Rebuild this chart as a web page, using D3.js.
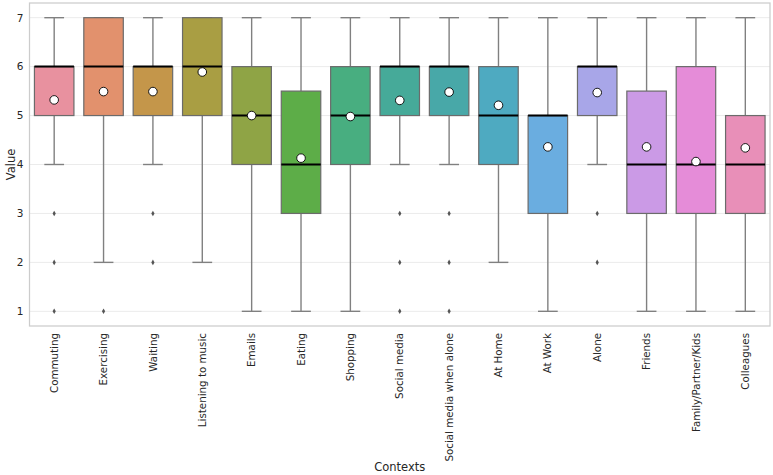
<!DOCTYPE html>
<html>
<head>
<meta charset="utf-8">
<script src="https://cdn.jsdelivr.net/npm/d3@7"></script>
<style>
  body { margin: 0; background: #fff; }
  text { font-family: "DejaVu Sans", sans-serif; fill: #262626; }
</style>
</head>
<body>
<div class="chart"></div>
<script>
/// Box stats per context
var contexts = ["Commuting", "Exercising", "Waiting", "Listening to music", "Emails", "Eating",
    "Shopping", "Social media", "Social media when alone", "At Home", "At Work", "Alone",
    "Friends", "Family/Partner/Kids", "Colleagues"];
var q1Values     = [5, 5, 5, 5, 4, 3,   4, 5, 5, 4, 3, 5, 3,   3, 3];
var medianValues = [6, 6, 6, 6, 5, 4,   5, 6, 6, 5, 5, 6, 4,   4, 4];
var q3Values     = [6, 7, 6, 7, 6, 5.5, 6, 6, 6, 6, 5, 6, 5.5, 6, 5];
var lowWhiskers  = [4, 2, 4, 2, 1, 1,   1, 4, 4, 2, 1, 4, 1,   1, 1];
var highWhiskers = [7, 7, 7, 7, 7, 7,   7, 7, 7, 7, 7, 7, 7,   7, 7];
var meanValues   = [5.32, 5.49, 5.49, 5.89, 5.0, 4.13, 4.98, 5.31, 5.48, 5.21, 4.36, 5.47, 4.36, 4.06, 4.34];
var outlierValues = [[3, 2, 1], [1], [3, 2], [], [], [], [], [3, 2, 1], [3, 2, 1], [], [], [3, 2], [], [], []];
var yTicks = [1, 2, 3, 4, 5, 6, 7];

var boxColors = ["#e8919f", "#e2916d", "#c4964a", "#a99e43", "#8fa445", "#5dad48",
    "#48ae80", "#46aa99", "#48a8a8", "#4eaac1", "#6aade0", "#a8a6e8",
    "#cb9ae6", "#e58cd8", "#e88fb8"];

var svgWidth = 773;
var svgHeight = 475;
var margin = { top: 3, right: 3, bottom: 149, left: 29.5 };
var width = svgWidth - margin.left - margin.right;
var height = svgHeight - margin.top - margin.bottom;

var svg = d3.select(".chart")
    .append("svg")
    .attr("width", svgWidth)
    .attr("height", svgHeight);

var chartGroup = svg.append("g")
    .attr("transform", `translate(${margin.left}, ${margin.top})`);

var xScale = d3.scaleBand()
    .domain(contexts)
    .range([0, width])
    .paddingInner(0)
    .paddingOuter(0);

var yScale = d3.scaleLinear()
    .domain([0.7, 7.3])
    .range([height, 0]);

/// Horizontal grid
chartGroup.append("g")
    .selectAll("line")
    .data(yTicks)
    .enter()
    .append("line")
    .attr("x1", 0)
    .attr("x2", width)
    .attr("y1", d => yScale(d))
    .attr("y2", d => yScale(d))
    .attr("stroke", "#ebebeb")
    .attr("stroke-width", 1);

/// Axes
var leftAxis = d3.axisLeft(yScale).tickValues(yTicks).tickFormat(d3.format("d")).tickSize(0).tickPadding(6);
var yAxis = chartGroup.append("g").call(leftAxis);
yAxis.select(".domain").remove();
yAxis.selectAll("text").style("font-size", "10.5px").attr("fill", "#262626");

var bottomAxis = d3.axisBottom(xScale).tickSize(0);
var xAxis = chartGroup.append("g")
    .attr("transform", `translate(0, ${height})`)
    .call(bottomAxis);
xAxis.select(".domain").remove();
xAxis.selectAll("text")
    .style("font-size", "10.3px")
    .attr("fill", "#262626")
    .attr("transform", "rotate(-90)")
    .attr("text-anchor", "end")
    .attr("x", -7)
    .attr("y", 0)
    .attr("dy", "0.35em");

var bw = xScale.bandwidth() * 0.8;
var capW = bw / 2;
var cx = d => xScale(contexts[d]) + xScale.bandwidth() / 2;
var idx = d3.range(contexts.length);

/// Whiskers
var boxes = chartGroup.selectAll(".box")
    .data(idx)
    .enter()
    .append("g")
    .attr("class", "box");

boxes.append("line")
    .attr("x1", cx).attr("x2", cx)
    .attr("y1", d => yScale(q1Values[d]))
    .attr("y2", d => yScale(lowWhiskers[d]))
    .attr("stroke", "#808080").attr("stroke-width", 1.4);

boxes.append("line")
    .attr("x1", cx).attr("x2", cx)
    .attr("y1", d => yScale(q3Values[d]))
    .attr("y2", d => yScale(highWhiskers[d]))
    .attr("stroke", "#808080").attr("stroke-width", 1.4);

boxes.append("line")
    .attr("x1", d => cx(d) - capW / 2).attr("x2", d => cx(d) + capW / 2)
    .attr("y1", d => yScale(lowWhiskers[d]))
    .attr("y2", d => yScale(lowWhiskers[d]))
    .attr("stroke", "#808080").attr("stroke-width", 1.4);

boxes.append("line")
    .attr("x1", d => cx(d) - capW / 2).attr("x2", d => cx(d) + capW / 2)
    .attr("y1", d => yScale(highWhiskers[d]))
    .attr("y2", d => yScale(highWhiskers[d]))
    .attr("stroke", "#808080").attr("stroke-width", 1.4);

/// Box bodies
boxes.append("rect")
    .attr("x", d => cx(d) - bw / 2)
    .attr("width", bw)
    .attr("y", d => yScale(q3Values[d]))
    .attr("height", d => yScale(q1Values[d]) - yScale(q3Values[d]))
    .attr("fill", d => boxColors[d])
    .attr("stroke", "#6b6b6b")
    .attr("stroke-width", 1.2);

/// Medians
boxes.append("line")
    .attr("x1", d => cx(d) - bw / 2).attr("x2", d => cx(d) + bw / 2)
    .attr("y1", d => yScale(medianValues[d]))
    .attr("y2", d => yScale(medianValues[d]))
    .attr("stroke", "#000").attr("stroke-width", 2);

/// Outliers
boxes.selectAll(".flier")
    .data(d => outlierValues[d].map(v => ({ i: d, v: v })))
    .enter()
    .append("path")
    .attr("class", "flier")
    .attr("d", d3.symbol().type(d3.symbolDiamond).size(9))
    .attr("transform", d => `translate(${cx(d.i)}, ${yScale(d.v)})`)
    .attr("fill", "#555");

/// Means
boxes.append("circle")
    .attr("cx", cx)
    .attr("cy", d => yScale(meanValues[d]))
    .attr("r", 4.3)
    .attr("fill", "#fff")
    .attr("stroke", "#000")
    .attr("stroke-width", 0.9);

/// Frame
chartGroup.append("rect")
    .attr("x", 0).attr("y", 0)
    .attr("width", width).attr("height", height)
    .attr("fill", "none")
    .attr("stroke", "#cccccc")
    .attr("stroke-width", 1.25);

/// Axis labels
chartGroup.append("text")
    .attr("x", width / 2)
    .attr("y", svgHeight - margin.top - 4)
    .attr("text-anchor", "middle")
    .style("font-size", "11.5px")
    .text("Contexts");

chartGroup.append("text")
    .attr("transform", "rotate(-90)")
    .attr("x", -yScale(4))
    .attr("y", -margin.left + 14.5)
    .attr("text-anchor", "middle")
    .style("font-size", "11.5px")
    .text("Value");
</script>
</body>
</html>
